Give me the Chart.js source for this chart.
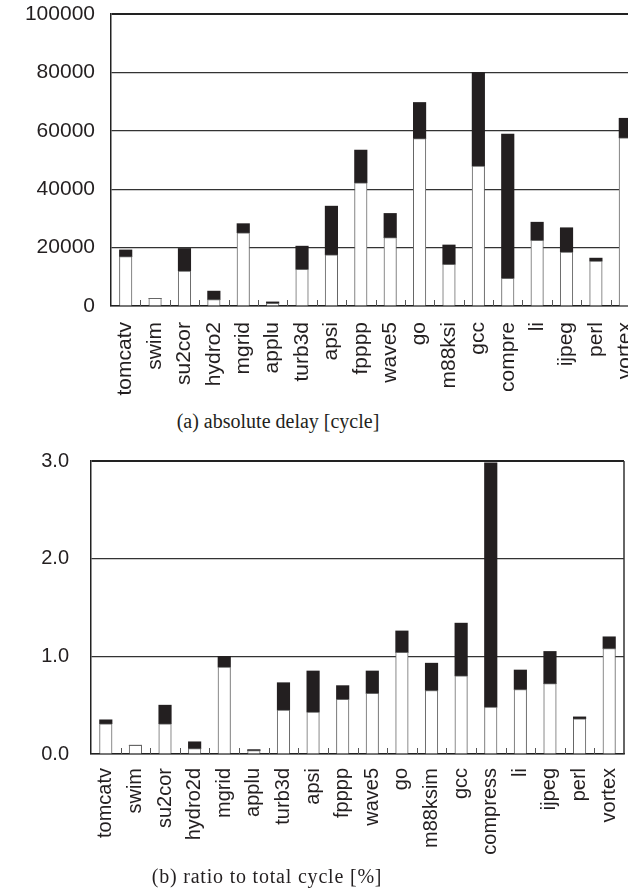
<!DOCTYPE html>
<html>
<head>
<meta charset="utf-8">
<script src="https://cdn.jsdelivr.net/npm/chart.js@4/dist/chart.umd.min.js"></script>
<style>
  html, body { margin: 0; padding: 0; background: #fff; overflow: hidden; width: 628px; height: 891px; }
  canvas { position: absolute; left: 0; }
  #ca { top: 0; }
  #cb { top: 446px; }
  .cap { position: absolute; font-family: "Liberation Serif", "DejaVu Serif", serif; font-size: 20px; color: #231f20; text-align: center; width: 400px; line-height: 22px; }
</style>
</head>
<body>
<canvas id="ca" width="650" height="410"></canvas>
<canvas id="cb" width="628" height="420"></canvas>
<div class="cap" style="left:78px; top:410px;">(a) absolute delay [cycle]</div>
<div class="cap" style="left:67px; top:865px; letter-spacing:0.8px;">(b) ratio to total cycle [%]</div>
<script>
// (a) absolute delay [cycle]
const labelsA = ['tomcatv', 'swim', 'su2cor', 'hydro2', 'mgrid', 'applu', 'turb3d', 'apsi', 'fpppp', 'wave5', 'go', 'm88ksi', 'gcc', 'compre', 'li', 'ijpeg', 'perl', 'vortex'];
const baseA  = [16900, 2600, 12000, 2200, 25100, 900, 12600, 17500, 42200, 23400, 57300, 14300, 47900, 9500, 22500, 18500, 15400, 57600];
const totalA = [19200, 2600, 19700, 5100, 28200, 1400, 20500, 34200, 53400, 31700, 69700, 20900, 80000, 58900, 28700, 26800, 16400, 64300];
const ticksA = [0, 20000, 40000, 60000, 80000, 100000];

// (b) ratio to total cycle [%]
const labelsB = ['tomcatv', 'swim', 'su2cor', 'hydro2d', 'mgrid', 'applu', 'turb3d', 'apsi', 'fpppp', 'wave5', 'go', 'm88ksim', 'gcc', 'compress', 'li', 'ijpeg', 'perl', 'vortex'];
const baseB  = [0.31, 0.09, 0.31, 0.055, 0.89, 0.034, 0.45, 0.43, 0.56, 0.62, 1.04, 0.65, 0.80, 0.48, 0.66, 0.72, 0.36, 1.08];
const totalB = [0.35, 0.09, 0.50, 0.125, 1.00, 0.045, 0.73, 0.85, 0.70, 0.85, 1.26, 0.93, 1.34, 2.98, 0.86, 1.05, 0.38, 1.20];
const ticksB = [0, 1, 2, 3];

const ink = '#231f20';

// small tick marks between categories, pointing up from the baseline
const innerTicks = {
    id: 'innerTicks',
    afterDatasetsDraw(chart, args, opts) {
        const ctx = chart.ctx, xs = chart.scales.x, area = chart.chartArea;
        ctx.save();
        ctx.strokeStyle = '#555';
        ctx.lineWidth = 1;
        ctx.beginPath();
        for (let i = 1; i < chart.data.labels.length; i++) {
            const px = Math.round((xs.getPixelForValue(i - 1) + xs.getPixelForValue(i)) / 2) + 0.5;
            ctx.moveTo(px, area.bottom);
            ctx.lineTo(px, area.bottom - 6);
        }
        ctx.stroke();
        if (opts.rightFrame) {
            ctx.strokeStyle = '#333';
            ctx.lineWidth = 1.5;
            ctx.beginPath();
            ctx.moveTo(area.right, area.top);
            ctx.lineTo(area.right, area.bottom);
            ctx.stroke();
        }
        ctx.restore();
    }
};

function makeChart(id, labels, base, total, ticks, cfg) {
    const top = total.map((t, i) => +(t - base[i]).toFixed(4));
    const maxV = ticks[ticks.length - 1];
    return new Chart(document.getElementById(id).getContext('2d'), {
        type: 'bar',
        data: {
            labels: labels,
            datasets: [{
                data: base,
                backgroundColor: '#ffffff',
                borderColor: '#666',
                borderWidth: 1,
                borderSkipped: 'bottom',
                barThickness: 12.5
            }, {
                data: top,
                backgroundColor: ink,
                borderWidth: 0,
                barThickness: 12.5
            }]
        },
        options: {
            responsive: false,
            animation: false,
            layout: { padding: { top: cfg.padTop, right: cfg.padRight, left: 0, bottom: 0 } },
            plugins: { legend: { display: false }, tooltip: { enabled: false }, innerTicks: { rightFrame: cfg.rightFrame } },
            scales: {
                x: {
                    stacked: true,
                    grid: { display: false, drawTicks: false },
                    border: { display: true, color: '#222', width: 1.5 },
                    ticks: {
                        autoSkip: false, minRotation: 90, maxRotation: 90,
                        padding: cfg.xPad, color: ink,
                        font: { family: 'Liberation Sans', size: cfg.font }
                    },
                    afterFit: s => { s.height = cfg.xHeight; s.paddingLeft = 0; s.paddingRight = 0; }
                },
                y: {
                    stacked: true,
                    min: 0, max: maxV,
                    afterBuildTicks: s => { s.ticks = ticks.map(v => ({ value: v })); },
                    grid: {
                        drawTicks: false,
                        color: c => c.tick && c.tick.value === maxV ? '#222' : '#333',
                        lineWidth: c => c.tick && c.tick.value === maxV ? 2 : 1.2
                    },
                    border: { display: true, color: '#222', width: 1.5 },
                    ticks: {
                        padding: cfg.yPad, color: ink,
                        font: { family: 'Liberation Sans', size: cfg.font },
                        callback: cfg.fmt
                    },
                    afterFit: s => { s.width = cfg.yWidth; s.paddingTop = 0; s.paddingBottom = 0; }
                }
            }
        },
        plugins: [innerTicks]
    });
}

makeChart('ca', labelsA, baseA, totalA, ticksA, {
    padTop: 14, padRight: 10, xHeight: 104, yWidth: 111, xPad: 16, yPad: 16,
    font: 21, rightFrame: false, fmt: v => String(v)
});
makeChart('cb', labelsB, baseB, totalB, ticksB, {
    padTop: 15, padRight: 4, xHeight: 112, yWidth: 91, xPad: 14, yPad: 22,
    font: 20, rightFrame: true, fmt: v => Number(v).toFixed(1)
});
</script>
</body>
</html>
